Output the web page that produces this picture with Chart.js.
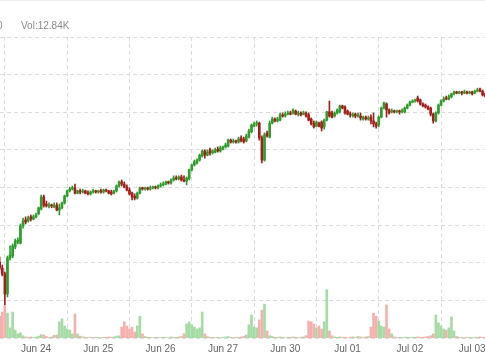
<!DOCTYPE html>
<html>
<head>
<meta charset="utf-8">
<script src="https://cdn.jsdelivr.net/npm/chart.js@4.4.1/dist/chart.umd.min.js"></script>
<style>
html, body { margin: 0; padding: 0; background: #fff; }
#wrap { width: 485px; height: 360px; position: relative; }
</style>
</head>
<body>
<div id="wrap"><canvas id="kline"></canvas></div>
<script>
// day ticks (candle index where each session starts)
const dayStart = [14, 38, 62, 86, 110, 134, 158, 182];
const dayLabels = ['Jun 24', 'Jun 25', 'Jun 26', 'Jun 27', 'Jun 30', 'Jul 01', 'Jul 02', 'Jul 03'];

// one row of 10 candles per line
const open = [
  120.2,118.6,117.0,111.7,121.3,121.8,124.2,125.5,125.2,129.8,
  131.4,131.1,132.2,131.6,132.2,133.0,134.3,137.5,135.6,135.1,
  135.3,134.8,135.3,134.0,134.6,135.9,137.7,139.1,139.6,139.9,
  138.5,139.1,138.8,139.1,138.5,138.3,138.8,139.1,138.8,139.1,
  138.8,139.3,139.1,138.8,138.5,139.1,140.4,141.5,140.9,140.1,
  139.3,138.5,137.7,137.2,138.5,139.9,139.6,139.9,139.6,139.9,
  140.1,139.9,140.4,140.7,140.9,141.5,141.2,142.0,142.5,142.3,
  142.8,142.0,141.7,142.3,144.7,146.0,146.5,147.3,148.4,149.7,
  148.6,150.0,149.2,149.4,150.2,149.7,150.2,150.8,151.0,152.6,
  152.1,152.4,152.1,153.2,152.9,152.4,153.4,154.8,156.3,156.9,
  157.1,153.2,147.3,154.5,153.4,157.1,158.2,157.7,157.9,159.3,
  159.0,159.5,159.8,159.8,160.3,159.5,159.8,159.5,159.8,159.3,
  158.2,157.1,156.3,157.1,157.4,156.1,157.9,160.1,159.8,159.0,
  159.8,160.1,161.7,161.4,160.3,159.5,159.0,159.5,159.0,159.0,
  158.2,158.7,158.2,158.7,157.7,156.9,156.6,158.7,161.1,162.2,
  160.6,160.1,160.3,160.1,160.3,160.1,160.1,161.1,161.9,162.7,
  163.0,163.8,163.3,162.2,161.9,161.4,161.1,159.5,157.7,159.8,
  161.9,163.0,163.8,163.5,164.1,164.9,165.4,165.1,165.4,165.1,
  165.4,165.1,165.4,165.1,165.6,166.2,165.6,164.9
];
const high = [
  121.5,119.4,117.5,121.8,124.5,125.0,126.3,126.6,130.3,131.9,
  132.2,132.4,132.7,132.7,133.2,134.8,138.0,138.0,136.4,135.9,
  135.6,135.9,135.9,135.6,136.1,138.0,139.3,140.1,140.4,140.9,
  139.3,139.6,139.6,139.3,139.1,139.1,139.6,139.3,139.3,139.6,
  139.6,139.6,139.3,139.3,139.3,140.7,141.7,142.0,141.5,140.7,
  139.9,138.8,138.3,138.8,140.1,140.1,140.1,140.1,140.4,140.4,
  140.4,140.7,141.2,141.5,141.7,141.7,142.3,143.1,143.1,143.1,
  143.3,143.1,142.8,144.9,146.2,147.3,147.6,148.9,150.0,150.0,
  150.0,150.5,150.0,150.5,150.8,151.0,151.0,151.8,152.9,152.9,
  152.9,152.6,153.4,153.7,153.4,154.2,155.5,156.9,157.4,157.7,
  157.4,153.7,154.5,155.0,157.7,158.7,158.5,158.7,159.8,159.8,
  160.1,160.3,160.3,160.9,160.6,160.3,160.1,160.3,160.1,159.8,
  158.5,157.7,157.7,157.4,157.7,158.2,160.3,163.0,160.3,160.1,
  160.9,161.9,161.9,161.7,160.6,160.1,159.8,159.8,159.8,159.8,
  159.0,159.0,159.0,159.3,159.8,157.4,159.0,161.4,162.7,162.5,
  160.9,160.9,160.6,160.6,160.6,160.9,161.4,162.2,163.0,163.3,
  163.5,164.3,163.5,162.5,162.2,161.7,161.4,159.8,160.1,162.2,
  163.3,164.1,164.3,164.6,165.1,165.6,165.6,165.6,165.6,165.9,
  165.6,165.6,165.6,165.9,166.4,166.4,165.9,165.1
];
const low = [
  118.1,116.5,108.8,110.9,120.7,121.3,123.7,125.0,125.0,129.2,
  130.3,130.8,131.1,131.4,131.9,132.7,134.0,134.8,134.8,134.6,
  134.6,134.6,133.8,132.7,134.3,135.6,137.5,138.8,139.3,138.3,
  138.3,138.3,138.5,138.3,138.0,138.0,138.5,138.5,138.5,138.5,
  138.5,138.8,138.3,138.0,138.3,138.8,140.1,140.4,139.9,139.1,
  138.0,136.7,136.7,136.9,138.3,139.3,139.3,139.3,139.3,139.6,
  139.6,139.6,140.1,140.4,140.7,140.9,140.9,141.7,142.0,142.0,
  141.7,141.5,140.7,142.0,144.4,145.7,146.2,147.0,148.1,147.8,
  148.4,148.6,148.9,149.2,149.4,149.4,150.0,150.5,150.8,151.8,
  151.8,151.8,151.8,152.1,151.8,152.1,153.2,154.5,156.1,156.3,
  152.6,146.5,147.0,153.4,153.2,156.9,157.4,157.4,157.7,158.7,
  158.7,159.3,159.3,159.5,159.3,159.0,159.0,159.3,158.7,157.7,
  156.6,155.8,156.1,156.1,155.0,155.5,157.7,158.7,158.5,158.7,
  159.5,159.8,160.9,159.5,159.3,158.7,158.7,158.5,158.7,157.9,
  157.9,157.9,157.9,156.9,156.1,155.8,156.1,158.5,160.9,158.7,
  159.5,159.8,159.8,159.8,159.5,159.8,159.8,160.9,161.7,162.5,
  162.7,162.7,161.9,161.4,161.1,160.6,159.0,157.1,157.4,159.5,
  161.7,162.7,163.3,163.3,163.8,164.6,164.9,164.9,164.6,164.9,
  164.9,164.9,164.6,164.9,165.4,165.4,164.3,164.1
];
const close = [
  118.6,117.0,111.7,121.3,122.1,124.5,125.8,126.0,129.8,131.1,
  130.8,131.9,131.6,132.2,132.7,134.6,137.5,135.3,135.1,135.3,
  135.1,135.3,134.0,134.6,135.9,137.7,139.1,139.6,139.9,138.5,
  139.1,138.8,139.1,138.5,138.3,138.8,139.1,138.8,139.1,138.8,
  139.3,139.1,138.5,138.3,139.1,140.4,141.5,140.9,140.1,139.3,
  138.3,137.5,137.2,138.5,139.9,139.6,139.9,139.6,139.9,140.1,
  139.9,140.4,140.7,140.9,141.5,141.2,142.0,142.5,142.3,142.8,
  142.0,141.7,142.5,144.7,146.0,146.8,147.3,148.6,149.7,148.6,
  149.4,149.2,149.7,150.0,149.7,150.5,150.8,151.3,152.6,152.1,
  152.4,152.1,152.9,152.4,152.1,153.7,155.0,156.6,156.9,157.1,
  153.2,147.3,154.0,153.7,157.1,158.2,157.7,158.2,159.3,159.0,
  159.5,159.8,159.5,160.6,159.5,159.8,159.3,159.8,159.0,157.9,
  156.9,156.1,157.4,156.3,155.8,157.9,160.1,159.0,158.7,159.8,
  160.6,161.7,161.1,159.8,159.5,159.3,159.5,159.0,159.3,158.5,
  158.7,158.2,158.5,157.7,156.9,156.3,158.7,161.1,162.5,160.6,
  159.8,160.3,160.1,160.3,160.1,160.3,161.1,161.9,162.7,163.0,
  163.3,163.0,162.2,161.7,161.4,160.9,159.5,157.7,159.8,161.9,
  163.0,163.5,163.5,164.1,164.9,165.4,165.1,165.4,165.1,165.4,
  165.1,165.4,164.9,165.6,165.9,165.6,164.6,164.3
];
// volume in thousands
const volume = [
  5.8,6.9,8.5,6.6,2.7,6.9,2.1,1.1,1.4,0.6,
  0.3,0.2,0.3,0.2,0.3,0.5,0.9,0.8,0.4,0.2,
  0.3,0.7,0.8,4.3,5.1,3.2,2.4,2.1,1.1,6.4,
  1.1,0.5,0.3,0.2,0.2,0.2,0.1,0.2,0.2,0.1,
  0.2,0.2,0.3,0.2,0.3,0.5,0.6,2.9,4.3,3.2,
  2.4,2.9,1.6,3.2,5.8,1.1,0.4,0.2,0.2,0.1,
  0.2,0.2,0.1,0.2,0.2,0.1,0.3,0.2,0.2,0.3,
  0.4,1.1,3.7,4.3,3.5,2.9,2.4,2.7,6.9,1.1,
  0.4,0.2,0.2,0.1,0.2,0.1,0.2,0.3,0.4,0.2,
  0.1,0.2,0.2,0.3,0.4,0.8,3.5,6.1,2.9,2.7,
  4.8,7.4,9.0,1.9,0.6,0.4,0.2,0.2,0.3,0.2,
  0.1,0.2,0.2,0.3,0.2,0.1,0.2,0.3,0.6,4.5,
  4.3,3.7,2.7,3.2,2.4,4.3,12.84,1.9,0.6,0.3,
  0.2,0.3,0.2,0.2,0.1,0.2,0.3,0.2,0.4,0.3,
  0.2,0.3,0.4,2.9,6.6,5.8,4.5,3.2,2.9,8.8,
  2.4,1.1,0.3,0.2,0.2,0.1,0.2,0.2,0.1,0.2,
  0.2,0.3,0.2,0.2,0.3,0.4,0.6,1.1,6.1,4.0,
  3.2,2.4,2.1,2.7,5.6,1.9,0.4,0.2,0.2,0.1,
  0.2,0.2,0.1,0.2,0.2,0.3,0.2,0.2
];

const UP = '#2f9e2f', DOWN = '#a51f1f';
const VOL_UP = '#a6dba6', VOL_DOWN = '#f4b1ae';
const GRID = '#dcdcdc';

const isUp = close.map((c, i) => c >= open[i]);

const header = {
  id: 'header',
  afterDraw(chart) {
    const ctx = chart.ctx;
    ctx.save();
    ctx.strokeStyle = '#eeeeee';
    ctx.lineWidth = 1;
    ctx.beginPath();
    ctx.moveTo(0, 0.5);
    ctx.lineTo(chart.width, 0.5);
    ctx.stroke();
    ctx.fillStyle = '#8a8a8a';
    ctx.font = '10px "Liberation Sans", Arial, sans-serif';
    ctx.textBaseline = 'middle';
    ctx.fillText('0', -3, 26);
    ctx.fillText('Vol:12.84K', 21, 26);
    ctx.restore();
  }
};

new Chart(document.getElementById('kline'), {
  type: 'bar',
  data: {
    datasets: [
      {
        label: 'body',
        data: close.map((c, i) => ({ x: i, y: [open[i], c] })),
        backgroundColor: isUp.map(u => u ? UP : DOWN),
        barThickness: 2,
        minBarLength: 1,
        grouped: false,
        order: 1,
        yAxisID: 'y'
      },
      {
        label: 'wick',
        data: low.map((l, i) => ({ x: i, y: [l, high[i]] })),
        backgroundColor: isUp.map(u => u ? UP : DOWN),
        barThickness: 1,
        grouped: false,
        order: 2,
        yAxisID: 'y'
      },
      {
        label: 'volume',
        data: volume.map((v, i) => ({ x: i, y: v })),
        backgroundColor: isUp.map(u => u ? VOL_UP : VOL_DOWN),
        barThickness: 2,
        grouped: false,
        order: 3,
        yAxisID: 'v'
      }
    ]
  },
  options: {
    responsive: true,
    maintainAspectRatio: false,
    animation: false,
    layout: { padding: { top: 37, left: 0, right: 0, bottom: 0 } },
    plugins: { legend: { display: false }, tooltip: { enabled: false } },
    scales: {
      x: {
        type: 'linear',
        min: 0.13,
        max: 186.93,
        offset: false,
        afterBuildTicks: axis => { axis.ticks = dayStart.map(v => ({ value: v })); },
        afterFit: axis => {
          // chart is cropped at both sides, don't shrink for edge labels
          axis.paddingLeft = 0;
          axis.paddingRight = 0;
          axis.height = 22;
        },
        ticks: {
          autoSkip: false,
          maxRotation: 0,
          padding: 5,
          color: '#666',
          font: { size: 10, family: '"Liberation Sans", Arial, sans-serif' },
          callback: (v, i) => dayLabels[i]
        },
        grid: { color: GRID, drawTicks: false },
        border: { display: false, dash: [4, 3] }
      },
      y: {
        min: 100,
        max: 180,
        ticks: { display: false, stepSize: 10 },
        grid: { color: GRID, drawTicks: false },
        border: { display: false, dash: [4, 3] }
      },
      v: { display: false, min: 0, max: 80 }
    }
  },
  plugins: [header]
});
</script>
</body>
</html>
